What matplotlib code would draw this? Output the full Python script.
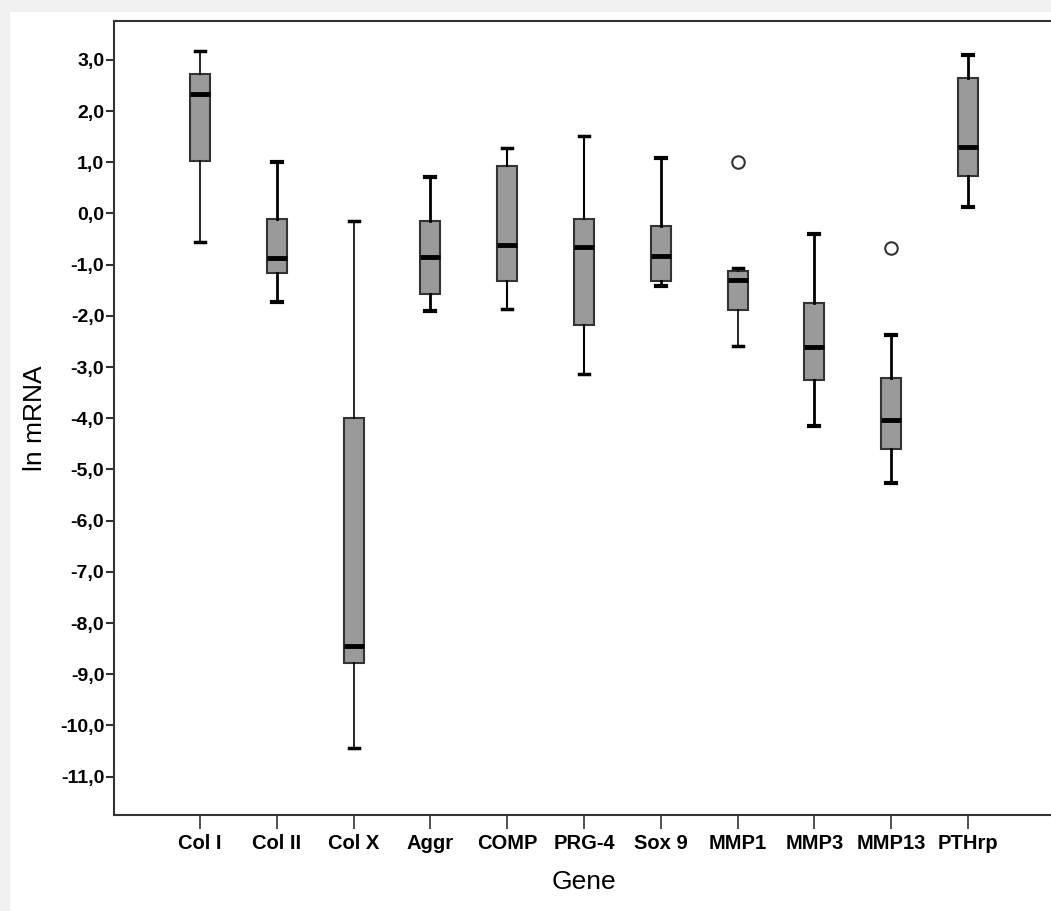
import matplotlib
matplotlib.use("Agg")
import matplotlib.pyplot as plt
from matplotlib.patches import Rectangle

genes = ["Col I", "Col II", "Col X", "Aggr", "COMP", "PRG-4", "Sox 9", "MMP1", "MMP3", "MMP13", "PTHrp"]
whisker_low = [-0.56, -1.73, -10.44, -1.90, -1.87, -3.13, -1.41, -2.59, -4.15, -5.27, 0.12]
q1 = [1.03, -1.17, -8.78, -1.58, -1.32, -2.18, -1.32, -1.88, -3.26, -4.60, 0.73]
median = [2.33, -0.87, -8.45, -0.85, -0.62, -0.65, -0.83, -1.29, -2.61, -4.04, 1.29]
q3 = [2.73, -0.11, -3.99, -0.14, 0.92, -0.10, -0.24, -1.13, -1.75, -3.21, 2.64]
whisker_high = [3.18, 1.00, -0.14, 0.72, 1.27, 1.51, 1.09, -1.06, -0.40, -2.38, 3.09]
outliers = [[], [], [], [], [], [], [], [1.01], [], [-0.68], []]
whisker_lw = [1.2, 2.0, 1.2, 2.0, 1.5, 1.5, 2.0, 1.2, 2.0, 2.0, 2.0]

y_ticks = list(range(3, -12, -1))
y_tick_labels = [f"{v:.1f}".replace(".", ",") for v in y_ticks]

plt.rcParams['font.family'] = ['Liberation Sans', 'DejaVu Sans']

fig = plt.figure(figsize=(10.51, 9.11), dpi=100)
fig.patch.set_facecolor("#f0f0f0")
fig.patches.append(Rectangle((10/1051, 0), 1, 1 - 12/911, transform=fig.transFigure,
                             facecolor="white", edgecolor="none", zorder=-10))

ax = fig.add_axes([114/1051, 1 - 815/911, 940/1051, (815 - 21)/911])
ax.set_zorder(1)
ax.set_facecolor("white")

stats = []
for i, g in enumerate(genes):
    stats.append(dict(label=g, whislo=whisker_low[i], q1=q1[i], med=median[i],
                      q3=q3[i], whishi=whisker_high[i], fliers=outliers[i]))

positions = list(range(1, len(genes) + 1))
for i, s in enumerate(stats):
    ax.bxp([s], positions=[positions[i]], widths=0.26, patch_artist=True,
           showfliers=True,
           boxprops=dict(facecolor="#9a9a9a", edgecolor="#333333", linewidth=1.5),
           medianprops=dict(color="black", linewidth=3.5, solid_capstyle="butt"),
           whiskerprops=dict(color="black", linewidth=whisker_lw[i]),
           capprops=dict(color="black", linewidth=3 if whisker_lw[i] > 1.5 else 2.5),
           capwidths=0.13,
           flierprops=dict(marker="o", markersize=9, markerfacecolor="white",
                           markeredgecolor="#333333", markeredgewidth=1.5))

ax.set_xlim(-0.12, 12.12)
ax.set_ylim(-11.75, 3.76)
ax.set_xticks(positions)
ax.set_xticklabels(genes, fontsize=14.5, fontweight="bold")
ax.set_yticks(y_ticks)
ax.set_yticklabels(y_tick_labels, fontsize=14, fontweight="bold")
ax.tick_params(axis="y", direction="out", length=6, width=1.5, color="#333333", pad=1)
ax.tick_params(axis="x", direction="out", length=10, width=1.2, color="#333333", pad=4)

for side in ["left", "bottom", "top", "right"]:
    ax.spines[side].set_color("#333333")
    ax.spines[side].set_linewidth(1.5)

ax.set_xlabel("Gene", fontsize=19, labelpad=12)
ax.set_ylabel("ln mRNA", fontsize=19, labelpad=9)

fig.savefig("out.png", dpi=100, facecolor=fig.get_facecolor())
